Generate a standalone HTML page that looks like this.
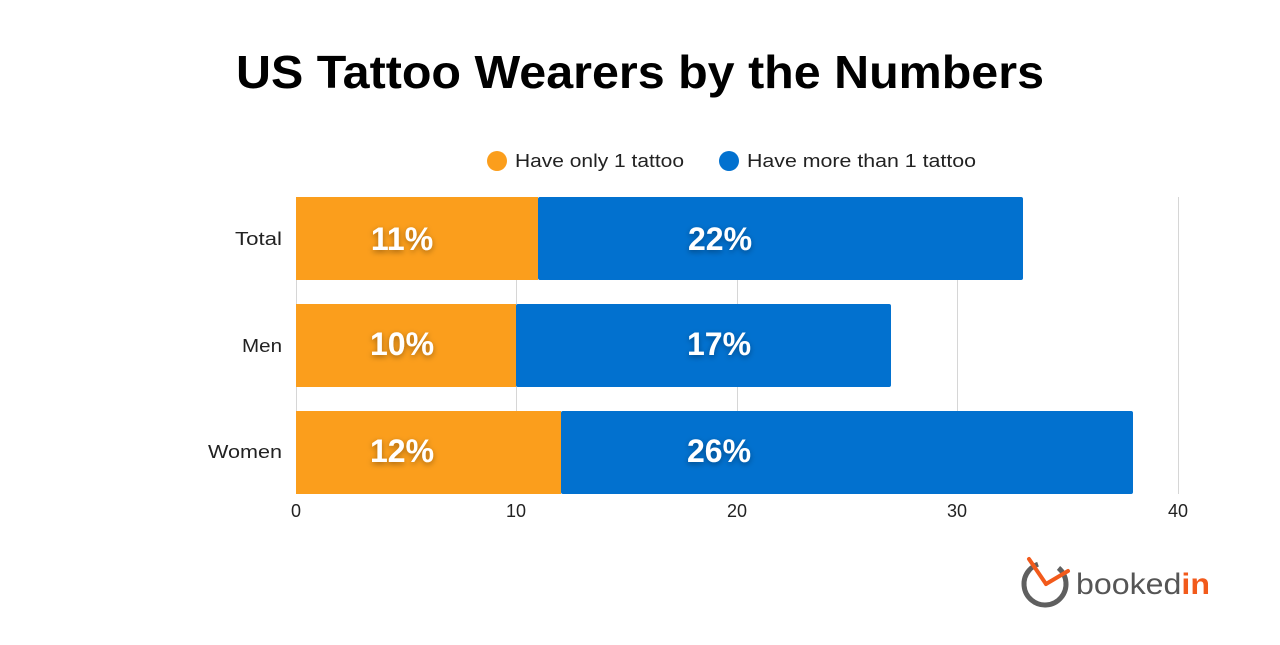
<!DOCTYPE html>
<html><head><style>
body{margin:0;width:1280px;height:640px;background:#fff;font-family:"Liberation Sans",sans-serif;overflow:hidden}
svg text{font-family:"Liberation Sans",sans-serif}
</style></head><body>
<svg width="1280" height="640" viewBox="0 0 1280 640">
<text x="236" y="88" font-size="46" font-weight="bold" fill="#000" textLength="808" lengthAdjust="spacingAndGlyphs">US Tattoo Wearers by the Numbers</text>
<circle cx="497" cy="161" r="10" fill="#fb9e1c"/>
<text x="515" y="167" font-size="18" fill="#222" textLength="169" lengthAdjust="spacingAndGlyphs">Have only 1 tattoo</text>
<circle cx="729" cy="161" r="10" fill="#0271cf"/>
<text x="747" y="167" font-size="18" fill="#222" textLength="229" lengthAdjust="spacingAndGlyphs">Have more than 1 tattoo</text>
<g stroke="#d6d6d6" stroke-width="1">
<line x1="296.5" y1="197" x2="296.5" y2="494"/>
<line x1="516.5" y1="197" x2="516.5" y2="494"/>
<line x1="737.5" y1="197" x2="737.5" y2="494"/>
<line x1="957.5" y1="197" x2="957.5" y2="494"/>
<line x1="1178.5" y1="197" x2="1178.5" y2="494"/>
</g>
<defs><filter id="sh" x="-30%" y="-30%" width="160%" height="160%"><feDropShadow dx="0" dy="2" stdDeviation="3" flood-color="#000" flood-opacity="0.35"/></filter></defs>
<rect x="296" y="197" width="242" height="83" fill="#fb9e1c"/>
<rect x="538" y="197" width="485" height="83" rx="2" fill="#0271cf"/>
<rect x="296" y="304" width="220" height="83" fill="#fb9e1c"/>
<rect x="516" y="304" width="375" height="83" rx="2" fill="#0271cf"/>
<rect x="296" y="411" width="265" height="83" fill="#fb9e1c"/>
<rect x="561" y="411" width="572" height="83" rx="2" fill="#0271cf"/>
<g font-size="32" font-weight="bold" fill="#fff" text-anchor="middle" filter="url(#sh)">
<text x="402" y="250">11%</text><text x="720" y="250">22%</text>
<text x="402" y="355">10%</text><text x="719" y="355">17%</text>
<text x="402" y="462">12%</text><text x="719" y="462">26%</text>
</g>
<g font-size="18" fill="#222">
<text x="235" y="245" textLength="47" lengthAdjust="spacingAndGlyphs">Total</text><text x="242" y="352" textLength="40" lengthAdjust="spacingAndGlyphs">Men</text><text x="208" y="458" textLength="74" lengthAdjust="spacingAndGlyphs">Women</text>
</g>
<g font-size="18" fill="#222" text-anchor="middle">
<text x="296" y="517">0</text><text x="516" y="517">10</text><text x="737" y="517">20</text><text x="957" y="517">30</text><text x="1178" y="517">40</text>
</g>
<circle cx="1045" cy="584" r="21" fill="none" stroke="#5f5f5f" stroke-width="5" stroke-dasharray="110 22" transform="rotate(-50 1045 584)"/>
<line x1="1029" y1="559" x2="1046" y2="584" stroke="#f25a1b" stroke-width="4" stroke-linecap="round"/>
<line x1="1046" y1="584" x2="1068" y2="571" stroke="#f25a1b" stroke-width="4" stroke-linecap="round"/>
<text x="1076" y="594" font-size="30" fill="#555" textLength="134" lengthAdjust="spacingAndGlyphs">booked<tspan fill="#f25a1b" font-weight="bold">in</tspan></text>
</svg>
</body></html>
